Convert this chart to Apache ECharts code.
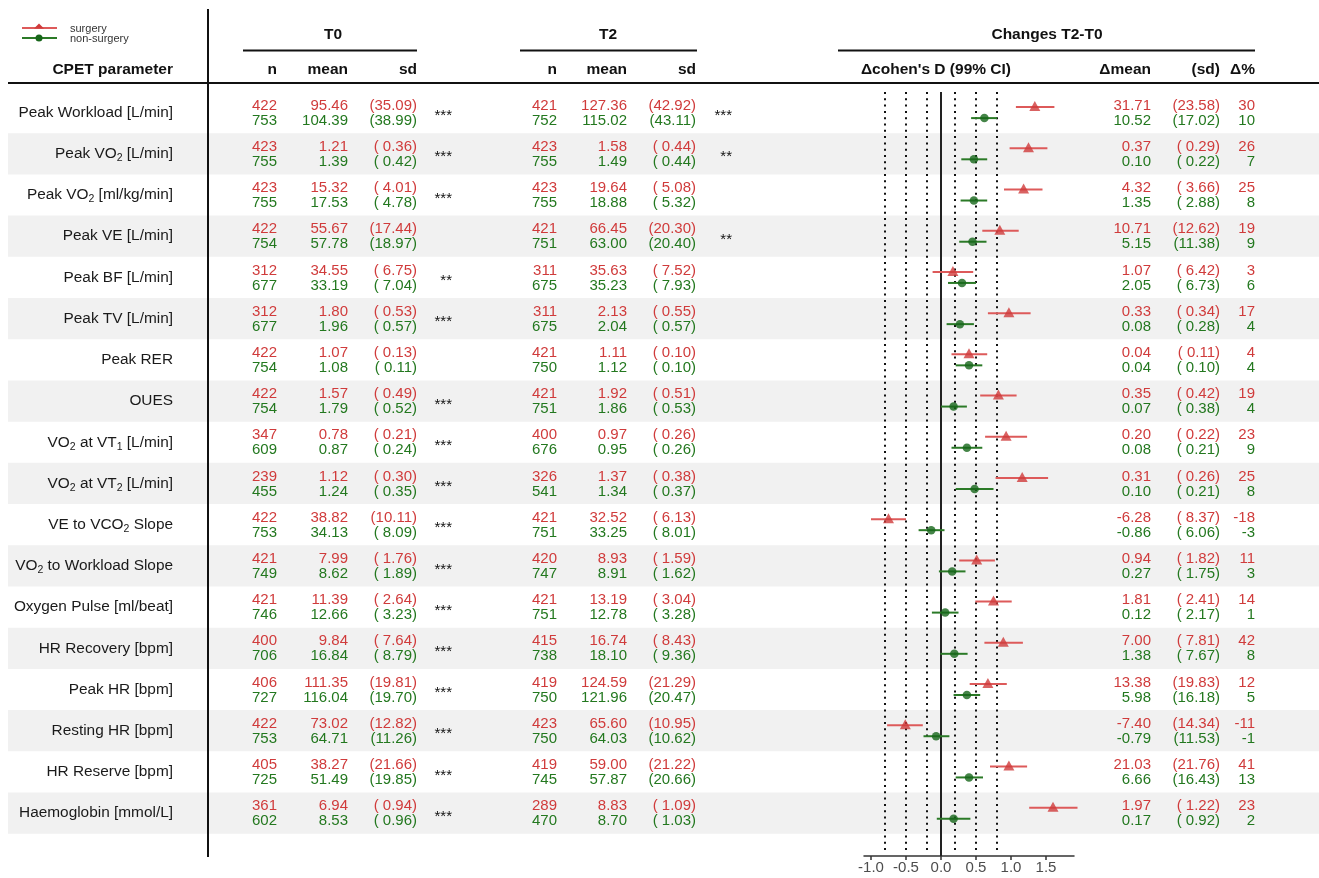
<!DOCTYPE html>
<html>
<head>
<meta charset="utf-8">
<script src="https://cdn.jsdelivr.net/npm/echarts@6/dist/echarts.min.js"></script>
<style>html,body{margin:0;padding:0;background:#fff}#c{width:1319px;height:878px}</style>
</head>
<body>
<div id="c"></div>
<script>
// ---------------- DATA ----------------
const parameters = ['Peak Workload [L/min]','Peak VO{s|2} [L/min]','Peak VO{s|2} [ml/kg/min]','Peak VE [L/min]','Peak BF [L/min]','Peak TV [L/min]','Peak RER','OUES','VO{s|2} at VT{s|1} [L/min]','VO{s|2} at VT{s|2} [L/min]','VE to VCO{s|2} Slope','VO{s|2} to Workload Slope','Oxygen Pulse [ml/beat]','HR Recovery [bpm]','Peak HR [bpm]','Resting HR [bpm]','HR Reserve [bpm]','Haemoglobin [mmol/L]'];
const groups = ['surgery', 'non-surgery'];

const t0NSurg    = [422,423,423,422,312,312,422,422,347,239,422,421,421,400,406,422,405,361];
const t0MeanSurg = [95.46,1.21,15.32,55.67,34.55,1.80,1.07,1.57,0.78,1.12,38.82,7.99,11.39,9.84,111.35,73.02,38.27,6.94];
const t0SdSurg   = [35.09,0.36,4.01,17.44,6.75,0.53,0.13,0.49,0.21,0.30,10.11,1.76,2.64,7.64,19.81,12.82,21.66,0.94];
const t0NNon     = [753,755,755,754,677,677,754,754,609,455,753,749,746,706,727,753,725,602];
const t0MeanNon  = [104.39,1.39,17.53,57.78,33.19,1.96,1.08,1.79,0.87,1.24,34.13,8.62,12.66,16.84,116.04,64.71,51.49,8.53];
const t0SdNon    = [38.99,0.42,4.78,18.97,7.04,0.57,0.11,0.52,0.24,0.35,8.09,1.89,3.23,8.79,19.70,11.26,19.85,0.96];
const t0Stars    = ['***','***','***','','**','***','','***','***','***','***','***','***','***','***','***','***','***'];

const t2NSurg    = [421,423,423,421,311,311,421,421,400,326,421,420,421,415,419,423,419,289];
const t2MeanSurg = [127.36,1.58,19.64,66.45,35.63,2.13,1.11,1.92,0.97,1.37,32.52,8.93,13.19,16.74,124.59,65.60,59.00,8.83];
const t2SdSurg   = [42.92,0.44,5.08,20.30,7.52,0.55,0.10,0.51,0.26,0.38,6.13,1.59,3.04,8.43,21.29,10.95,21.22,1.09];
const t2NNon     = [752,755,755,751,675,675,750,751,676,541,751,747,751,738,750,750,745,470];
const t2MeanNon  = [115.02,1.49,18.88,63.00,35.23,2.04,1.12,1.86,0.95,1.34,33.25,8.91,12.78,18.10,121.96,64.03,57.87,8.70];
const t2SdNon    = [43.11,0.44,5.32,20.40,7.93,0.57,0.10,0.53,0.26,0.37,8.01,1.62,3.28,9.36,20.47,10.62,20.66,1.03];
const t2Stars    = ['***','**','','**','','','','','','','','','','','','','',''];

const dMeanSurg  = [31.71,0.37,4.32,10.71,1.07,0.33,0.04,0.35,0.20,0.31,-6.28,0.94,1.81,7.00,13.38,-7.40,21.03,1.97];
const dSdSurg    = [23.58,0.29,3.66,12.62,6.42,0.34,0.11,0.42,0.22,0.26,8.37,1.82,2.41,7.81,19.83,14.34,21.76,1.22];
const dPctSurg   = [30,26,25,19,3,17,4,19,23,25,-18,11,14,42,12,-11,41,23];
const dMeanNon   = [10.52,0.10,1.35,5.15,2.05,0.08,0.04,0.07,0.08,0.10,-0.86,0.27,0.12,1.38,5.98,-0.79,6.66,0.17];
const dSdNon     = [17.02,0.22,2.88,11.38,6.73,0.28,0.10,0.38,0.21,0.21,6.06,1.75,2.17,7.67,16.18,11.53,16.43,0.92];
const dPctNon    = [10,7,8,9,6,4,4,4,9,8,-3,3,1,8,5,-1,13,2];

const cohenSurg   = [1.34,1.25,1.18,0.84,0.17,0.97,0.40,0.82,0.93,1.16,-0.75,0.51,0.75,0.89,0.67,-0.51,0.97,1.60];
const cohenSurgLo = [1.07,0.98,0.90,0.59,-0.12,0.67,0.15,0.56,0.63,0.78,-1.00,0.26,0.49,0.62,0.41,-0.77,0.70,1.26];
const cohenSurgHi = [1.62,1.52,1.45,1.11,0.46,1.28,0.66,1.08,1.23,1.53,-0.50,0.77,1.01,1.17,0.94,-0.26,1.23,1.95];
const cohenNon    = [0.62,0.47,0.47,0.45,0.30,0.27,0.40,0.18,0.37,0.48,-0.14,0.16,0.06,0.19,0.37,-0.07,0.40,0.18];
const cohenNonLo  = [0.43,0.29,0.28,0.26,0.10,0.08,0.21,0.00,0.15,0.21,-0.32,-0.03,-0.13,-0.01,0.18,-0.25,0.21,-0.06];
const cohenNonHi  = [0.80,0.66,0.66,0.65,0.50,0.47,0.59,0.37,0.59,0.75,0.05,0.35,0.25,0.38,0.56,0.12,0.60,0.42];

const refLines = [-0.8,-0.5,-0.2,0.2,0.5,0.8];
const xTicks = [-1.0,-0.5,0.0,0.5,1.0,1.5];

// ---------------- STYLE / LAYOUT ----------------
const FONT = '"Liberation Sans", Arial, Helvetica, sans-serif';
const RED = '#d03b3b', RED_LINE = '#dd5a5a', GREEN = '#23781f', GREEN_LINE = '#2b7a27';
const ROWS_MAX = 18.54;
const TXT_OFF_R = -7, TXT_OFF_G = 8, MK_OFF = 5.5, STAR_OFF = 3.5;
const FS = 15, FS_LABEL = 15.4, FS_HEAD = 15.5;
const COL = {label:173, t0n:277, t0mean:348, t0sd:417, t0star:452,
             t2n:557, t2mean:627, t2sd:696, t2star:732,
             dmean:1151, dsd:1220, dpct:1255};

const f2 = v => v.toFixed(2);
const fsd = v => '(' + v.toFixed(2).padStart(5, ' ') + ')';

const chart = echarts.init(document.getElementById('c'), null, {renderer: 'canvas'});

function txt(x, y, text, fill, align) {
  return {type: 'text', x: x, y: y, silent: true,
    style: {text: text, fill: fill, fontSize: FS, fontFamily: FONT, align: align || 'right', verticalAlign: 'middle'}};
}
function head(x, y, text, align) {
  return {type: 'text', z: 100, x: x, y: y, silent: true,
    style: {text: text, fill: '#111', fontSize: FS_HEAD, fontWeight: 'bold', fontFamily: FONT, align: align, verticalAlign: 'middle'}};
}

const rowIdx = parameters.map((_, i) => [i]);

const tableSeries = {
  type: 'custom', xAxisIndex: 0, yAxisIndex: 0, z: 5, silent: true, clip: false,
  data: rowIdx,
  renderItem: function (params, api) {
    const i = api.value(0);
    const c = y => api.coord([0, i + 0.5])[1] + y;
    const X = k => api.coord([COL[k], 0])[0];
    const yr = c(TXT_OFF_R), yg = c(TXT_OFF_G), ym = c(0);
    const ch = [];
    ch.push({type: 'text', x: X('label'), y: ym, silent: true, style: {
      text: parameters[i], fill: '#1a1a1a', fontSize: FS_LABEL, fontFamily: FONT, align: 'right', verticalAlign: 'middle',
      lineHeight: 20,
      rich: {s: {fontSize: 10.5, fontFamily: FONT, fill: '#1a1a1a', verticalAlign: 'bottom', lineHeight: 14}}
    }});
    ch.push(txt(X('t0n'), yr, String(t0NSurg[i]), RED));
    ch.push(txt(X('t0n'), yg, String(t0NNon[i]), GREEN));
    ch.push(txt(X('t0mean'), yr, f2(t0MeanSurg[i]), RED));
    ch.push(txt(X('t0mean'), yg, f2(t0MeanNon[i]), GREEN));
    ch.push(txt(X('t0sd'), yr, fsd(t0SdSurg[i]), RED));
    ch.push(txt(X('t0sd'), yg, fsd(t0SdNon[i]), GREEN));
    if (t0Stars[i]) ch.push(txt(X('t0star'), c(STAR_OFF), t0Stars[i], '#111'));
    ch.push(txt(X('t2n'), yr, String(t2NSurg[i]), RED));
    ch.push(txt(X('t2n'), yg, String(t2NNon[i]), GREEN));
    ch.push(txt(X('t2mean'), yr, f2(t2MeanSurg[i]), RED));
    ch.push(txt(X('t2mean'), yg, f2(t2MeanNon[i]), GREEN));
    ch.push(txt(X('t2sd'), yr, fsd(t2SdSurg[i]), RED));
    ch.push(txt(X('t2sd'), yg, fsd(t2SdNon[i]), GREEN));
    if (t2Stars[i]) ch.push(txt(X('t2star'), c(STAR_OFF), t2Stars[i], '#111'));
    ch.push(txt(X('dmean'), yr, f2(dMeanSurg[i]), RED));
    ch.push(txt(X('dmean'), yg, f2(dMeanNon[i]), GREEN));
    ch.push(txt(X('dsd'), yr, fsd(dSdSurg[i]), RED));
    ch.push(txt(X('dsd'), yg, fsd(dSdNon[i]), GREEN));
    ch.push(txt(X('dpct'), yr, String(dPctSurg[i]), RED));
    ch.push(txt(X('dpct'), yg, String(dPctNon[i]), GREEN));
    return {type: 'group', children: ch};
  }
};

const bandSeries = {
  type: 'custom', xAxisIndex: 0, yAxisIndex: 0, z: 0, silent: true, clip: false,
  data: rowIdx.filter(r => r[0] % 2 === 1),
  renderItem: function (params, api) {
    const i = api.value(0);
    const p1 = api.coord([8, i]);
    const p2 = api.coord([1319, i + 1]);
    return {type: 'rect', shape: {x: p1[0], y: p1[1], width: p2[0] - p1[0], height: p2[1] - p1[1]},
      style: {fill: '#f1f1f1'}};
  }
};

const refSeries = {
  type: 'custom', xAxisIndex: 1, yAxisIndex: 1, z: 3, silent: true, clip: false,
  data: refLines.map(v => [v]),
  renderItem: function (params, api) {
    const v = api.value(0);
    const a = api.coord([v, 0]), b = api.coord([v, 18.4]);
    return {type: 'line', shape: {x1: a[0], y1: a[1], x2: b[0], y2: b[1]},
      style: {stroke: '#111', lineWidth: 2, lineDash: [2, 4.3]}};
  }
};

const zeroSeries = {
  type: 'custom', xAxisIndex: 1, yAxisIndex: 1, z: 3, silent: true, clip: false,
  data: [[0]],
  renderItem: function (params, api) {
    const a = api.coord([0, 0]), b = api.coord([0, ROWS_MAX]);
    return {type: 'line', shape: {x1: a[0], y1: a[1], x2: b[0], y2: b[1]},
      style: {stroke: '#222', lineWidth: 2}};
  }
};

function ciSeries(lo, hi, off, color) {
  return {
    type: 'custom', xAxisIndex: 1, yAxisIndex: 1, z: 4, silent: true, clip: false,
    data: lo.map((l, i) => [l, hi[i], i]),
    renderItem: function (params, api) {
      const i = api.value(2);
      const a = api.coord([api.value(0), i + 0.5]), b = api.coord([api.value(1), i + 0.5]);
      return {type: 'line', shape: {x1: a[0], y1: a[1] + off, x2: b[0], y2: b[1] + off},
        style: {stroke: color, lineWidth: 2}};
    }
  };
}

const option = {
  animation: false,
  backgroundColor: '#ffffff',
  grid: [
    {left: 0, width: 1319, top: 92, height: 764, containLabel: false},
    {left: 864, width: 210, top: 92, height: 764, containLabel: false}
  ],
  xAxis: [
    {gridIndex: 0, type: 'value', min: 0, max: 1319, show: false},
    {gridIndex: 1, type: 'value', min: -1.1, max: 1.9, position: 'bottom',
      axisLine: {show: true, onZero: false, lineStyle: {color: '#333', width: 1.5}},
      axisTick: {show: true, customValues: xTicks, length: 4, lineStyle: {color: '#333', width: 1.5}},
      axisLabel: {show: true, customValues: xTicks, formatter: v => v.toFixed(1), color: '#4d4d4d', fontSize: 15, fontFamily: FONT, margin: 4},
      splitLine: {show: false}}
  ],
  yAxis: [
    {gridIndex: 0, type: 'value', min: 0, max: ROWS_MAX, inverse: true, show: false},
    {gridIndex: 1, type: 'value', min: 0, max: ROWS_MAX, inverse: true, show: false}
  ],
  series: [
    bandSeries,
    refSeries,
    zeroSeries,
    ciSeries(cohenSurgLo, cohenSurgHi, -MK_OFF, RED_LINE),
    ciSeries(cohenNonLo, cohenNonHi, MK_OFF, GREEN_LINE),
    {type: 'scatter', name: groups[0], xAxisIndex: 1, yAxisIndex: 1, z: 6, silent: true, clip: false,
      symbol: 'triangle', symbolSize: [11, 10], symbolOffset: [0, -MK_OFF - 1],
      itemStyle: {color: RED},
      data: cohenSurg.map((v, i) => [v, i + 0.5])},
    {type: 'scatter', name: groups[1], xAxisIndex: 1, yAxisIndex: 1, z: 6, silent: true, clip: false,
      symbol: 'circle', symbolSize: 8.5, symbolOffset: [0, MK_OFF],
      itemStyle: {color: '#17661a'},
      data: cohenNon.map((v, i) => [v, i + 0.5])},
    tableSeries
  ],
  graphic: [
    {type: 'line', z: 100, shape: {x1: 22, y1: 28, x2: 57, y2: 28}, style: {stroke: RED_LINE, lineWidth: 2}},
    {type: 'polygon', z: 100, shape: {points: [[39, 23.5], [44, 28.5], [34, 28.5]]}, style: {fill: RED}},
    {type: 'line', z: 100, shape: {x1: 22, y1: 38, x2: 57, y2: 38}, style: {stroke: GREEN_LINE, lineWidth: 2}},
    {type: 'circle', z: 100, shape: {cx: 39, cy: 38, r: 3.5}, style: {fill: '#17661a'}},
    {type: 'text', z: 100, x: 70, y: 28.5, style: {text: groups[0], fill: '#333', fontSize: 11, fontFamily: FONT, verticalAlign: 'middle'}},
    {type: 'text', z: 100, x: 70, y: 38.5, style: {text: groups[1], fill: '#333', fontSize: 11, fontFamily: FONT, verticalAlign: 'middle'}},
    {type: 'line', z: 100, shape: {x1: 208, y1: 9, x2: 208, y2: 857}, style: {stroke: '#111', lineWidth: 2}},
    {type: 'line', z: 100, shape: {x1: 8, y1: 83, x2: 1319, y2: 83}, style: {stroke: '#111', lineWidth: 2}},
    {type: 'line', z: 100, shape: {x1: 243, y1: 50.5, x2: 417, y2: 50.5}, style: {stroke: '#111', lineWidth: 2}},
    {type: 'line', z: 100, shape: {x1: 520, y1: 50.5, x2: 697, y2: 50.5}, style: {stroke: '#111', lineWidth: 2}},
    {type: 'line', z: 100, shape: {x1: 838, y1: 50.5, x2: 1255, y2: 50.5}, style: {stroke: '#111', lineWidth: 2}},
    head(333, 35, 'T0', 'center'),
    head(608, 35, 'T2', 'center'),
    head(1047, 35, 'Changes T2-T0', 'center'),
    head(173, 70, 'CPET parameter', 'right'),
    head(277, 70, 'n', 'right'),
    head(348, 70, 'mean', 'right'),
    head(417, 70, 'sd', 'right'),
    head(557, 70, 'n', 'right'),
    head(627, 70, 'mean', 'right'),
    head(696, 70, 'sd', 'right'),
    head(936, 70, 'Δcohen\'s D (99% CI)', 'center'),
    head(1151, 70, 'Δmean', 'right'),
    head(1220, 70, '(sd)', 'right'),
    head(1255, 70, 'Δ%', 'right')
  ]
};
chart.setOption(option);
</script>
</body>
</html>
